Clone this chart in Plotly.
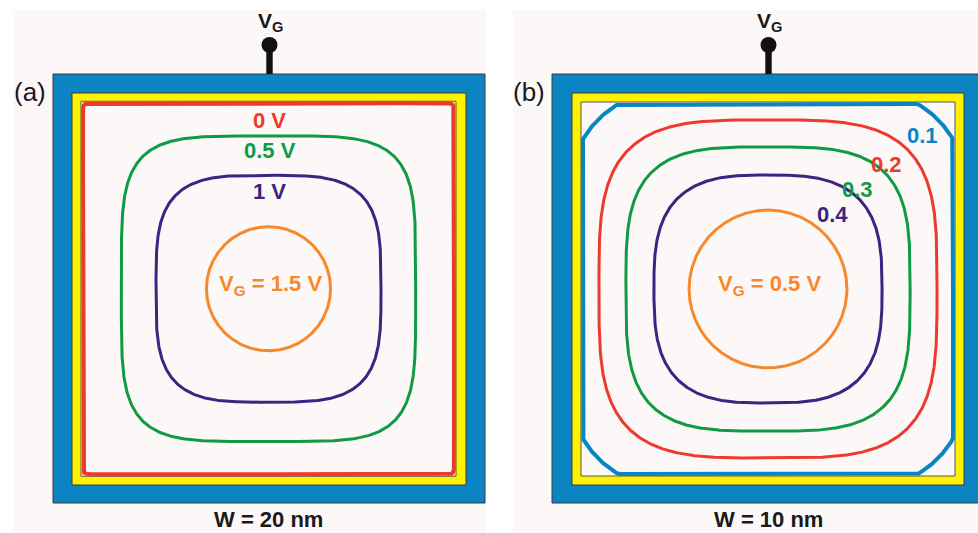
import numpy as np
import plotly.graph_objects as go

# ---------------------------------------------------------------------------
# Data: equipotential contours in the channel cross-section (coordinates in nm)
# ---------------------------------------------------------------------------
widths_nm = [20, 10]                       # channel width W of each device
gate_voltages = [1.5, 0.5]                 # V_G applied to each device

# device (a), W = 20 nm
levels_a = [0.0, 0.5, 1.0, 1.5]            # contour potential (V)
half_x_a = [9.89, 7.85, 6.00, 3.31]        # contour half-extent along x (nm)
half_y_a = [9.89, 8.15, 6.05, 3.31]        # contour half-extent along y (nm)
squareness_a = [100.0, 4.6, 3.6, 2.0]      # superellipse exponent of each contour

# device (b), W = 10 nm
levels_b = [0.1, 0.2, 0.3, 0.4, 0.5]
half_x_b = [5.53, 4.52, 3.80, 3.05, 2.11]
half_y_b = [5.53, 4.52, 3.80, 3.05, 2.11]
squareness_b = [3.5, 3.6, 3.5, 3.0, 2.0]

# ---------------------------------------------------------------------------
# Styling / layout
# ---------------------------------------------------------------------------
FIG_W, FIG_H = 978, 533
FONT = "Liberation Sans, Arial, sans-serif"
BG_PANEL = "#FCF8F8"
FRAME_BLUE = "#0A84C3"
FRAME_YELLOW = "#FFF200"
EDGE = "#3A3A3A"
INK = "#1A1A1A"
LABEL_SIZE = 22

colors_a = ["#EE3A2C", "#109A45", "#3B2581", "#F7892C"]
colors_b = ["#0A85C4", "#EE3A2C", "#109A45", "#3B2581", "#F7892C"]
line_w_a = [4, 3, 3, 3]
line_w_b = [4, 3, 3, 3, 3]

# label anchor points (nm) for each contour
label_xy_a = [(0.05, 8.97), (0.08, 7.37), (0.03, 5.21), (0.08, 0.18)]
label_xy_b = [(4.12, 4.10), (3.18, 3.33), (2.40, 2.66), (1.72, 1.99), (0.03, 0.12)]

# pixel placement of each panel: channel centre (px) and scale (px per nm)
panels = [
    dict(center=(268.5, 288.75), scale=18.75, dom=(0.0, 0.5),
         blue=(53, 74, 485, 503), yellow=(72, 93, 466, 485),
         bg=(13, 10, 486, 533), gate_x=269.5, tag="(a)", tag_x=30),
    dict(center=(768.0, 289.0), scale=37.4, dom=(0.5, 1.0),
         blue=(552, 74, 984, 503), yellow=(572, 93, 964, 485),
         bg=(513, 10, 985, 533), gate_x=768.5, tag="(b)", tag_x=529),
]


def px(x):
    return x / FIG_W


def py(y):
    return 1 - y / FIG_H


def superellipse(a, b, n, m=1200):
    th = np.linspace(0, 2 * np.pi, m)
    c, s = np.cos(th), np.sin(th)
    r = (np.abs(c / a) ** n + np.abs(s / b) ** n) ** (-1.0 / n)
    return r * c, r * s


fig = go.Figure()

datasets = [
    (levels_a, half_x_a, half_y_a, squareness_a, colors_a, line_w_a, label_xy_a),
    (levels_b, half_x_b, half_y_b, squareness_b, colors_b, line_w_b, label_xy_b),
]

shapes = []
annotations = []

for k, (panel, W, vg, ds) in enumerate(zip(panels, widths_nm, gate_voltages, datasets)):
    levels, hx, hy, nexp, cols, lws, lab_xy = ds
    xa = "x" if k == 0 else "x2"
    ya = "y" if k == 0 else "y2"
    half = W / 2
    # a contour lying on the channel wall is drawn just inside the box
    wall = half - 2.0 / panel["scale"]

    for lev, ax_, ay_, n, col, lw in zip(levels, hx, hy, nexp, cols, lws):
        x, y = superellipse(ax_, ay_, n)
        x = np.clip(x, -wall, wall)
        y = np.clip(y, -wall, wall)
        fig.add_trace(go.Scatter(x=x, y=y, mode="lines", xaxis=xa, yaxis=ya,
                                 line=dict(color=col, width=lw),
                                 hoverinfo="skip", showlegend=False))

    # contour labels
    for lev, col, (lx, ly) in zip(levels, cols, lab_xy):
        if lev == vg:
            txt = f"V<sub>G</sub> = {lev:g} V"
        elif k == 0:
            txt = f"{lev:g} V"
        else:
            txt = f"{lev:g}"
        annotations.append(dict(x=lx, y=ly, xref=xa, yref=ya, text=txt,
                                showarrow=False, xanchor="center", yanchor="middle",
                                font=dict(family=FONT, size=LABEL_SIZE, color=col,
                                          weight="bold")))

    # panel background and gate stack frames
    bx0, by0, bx1, by1 = panel["bg"]
    shapes.append(dict(type="rect", xref="paper", yref="paper", layer="below",
                       x0=px(bx0), x1=px(bx1), y0=py(by1), y1=py(by0),
                       fillcolor=BG_PANEL, line=dict(width=0)))
    for (x0, y0, x1, y1), fill in ((panel["blue"], FRAME_BLUE),
                                   (panel["yellow"], FRAME_YELLOW)):
        shapes.append(dict(type="rect", xref="paper", yref="paper", layer="below",
                           x0=px(x0), x1=px(x1), y0=py(y1), y1=py(y0),
                           fillcolor=fill, line=dict(color=EDGE, width=1)))
    # channel
    shapes.append(dict(type="rect", xref=xa, yref=ya, layer="below",
                       x0=-half, x1=half, y0=-half, y1=half,
                       fillcolor=BG_PANEL, line=dict(color="#555555", width=1)))

    # gate terminal
    gx = panel["gate_x"]
    shapes.append(dict(type="rect", xref="paper", yref="paper", layer="above",
                       x0=px(gx - 3.2), x1=px(gx + 3.2), y0=py(74), y1=py(45),
                       fillcolor="#111111", line=dict(width=0)))
    shapes.append(dict(type="circle", xref="paper", yref="paper", layer="above",
                       x0=px(gx - 8), x1=px(gx + 8), y0=py(53), y1=py(37),
                       fillcolor="#111111", line=dict(width=0)))
    annotations.append(dict(x=px(gx + 1), y=py(22), xref="paper", yref="paper",
                            text="V<sub>G</sub>", showarrow=False,
                            xanchor="center", yanchor="middle",
                            font=dict(family=FONT, size=21, color=INK, weight="bold")))

    # panel tag and width caption
    annotations.append(dict(x=px(panel["tag_x"]), y=py(92), xref="paper", yref="paper",
                            text=panel["tag"], showarrow=False,
                            xanchor="center", yanchor="middle",
                            font=dict(family=FONT, size=26, color=INK)))
    annotations.append(dict(x=0, y=py(519), xref=xa, yref="paper",
                            text=f"W = {W} nm", showarrow=False,
                            xanchor="center", yanchor="middle",
                            font=dict(family=FONT, size=LABEL_SIZE, color=INK,
                                      weight="bold")))

# axes: each panel is a subplot whose nm coordinates map onto its pixel box
layout_axes = {}
for k, panel in enumerate(panels):
    cx, cy = panel["center"]
    s = panel["scale"]
    d0, d1 = panel["dom"]
    xr = [(d0 * FIG_W - cx) / s, (d1 * FIG_W - cx) / s]
    yr = [(cy - FIG_H) / s, cy / s]
    sx = "" if k == 0 else "2"
    layout_axes[f"xaxis{sx}"] = dict(domain=[d0, d1], range=xr, visible=False,
                                     fixedrange=True, anchor=f"y{sx}")
    layout_axes[f"yaxis{sx}"] = dict(domain=[0, 1], range=yr, visible=False,
                                     fixedrange=True, anchor=f"x{sx}")

fig.update_layout(
    width=FIG_W, height=FIG_H,
    margin=dict(l=0, r=0, t=0, b=0),
    paper_bgcolor="white",
    plot_bgcolor="rgba(0,0,0,0)",
    shapes=shapes,
    annotations=annotations,
    showlegend=False,
    **layout_axes,
)

fig.write_html("out.html")
